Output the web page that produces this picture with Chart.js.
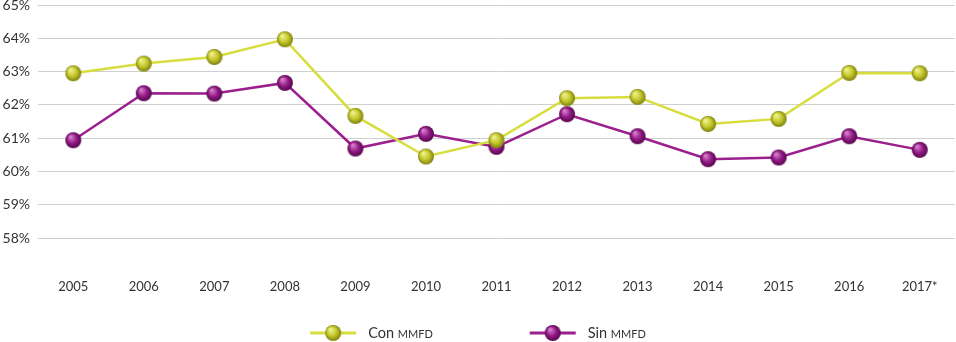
<!DOCTYPE html>
<html><head><meta charset="utf-8">
<script src="https://cdn.jsdelivr.net/npm/chart.js@4/dist/chart.umd.min.js"></script>
<style>html,body{margin:0;padding:0;background:#fff;}#wrap{width:956px;height:342px;}</style>
</head><body><div id="wrap"><canvas id="c"></canvas></div>
<script>
const years = ['2005','2006','2007','2008','2009','2010','2011','2012','2013','2014','2015','2016','2017*'];
const conMMFD = [62.95,63.24,63.44,63.97,61.67,60.45,60.94,62.20,62.24,61.43,61.58,62.96,62.95];
const sinMMFD = [60.94,62.35,62.34,62.66,60.69,61.13,60.74,61.72,61.06,60.37,60.42,61.06,60.65];
const seriesNames = [['Con ','MMFD'],['Sin ','MMFD']];
const yMin = 57, yMax = 65;

function ball(c1,c2,c3,r){
  const cv=document.createElement('canvas'); cv.width=cv.height=r*2+2;
  const g=cv.getContext('2d'); const cx=r+1;
  const gr=g.createRadialGradient(cx-r*0.35,cx-r*0.45,r*0.1,cx,cx,r);
  gr.addColorStop(0,c1); gr.addColorStop(0.55,c2); gr.addColorStop(1,c3);
  g.fillStyle=gr; g.beginPath(); g.arc(cx,cx,r,0,Math.PI*2); g.fill();
  return cv;
}
const yBall=ball('#eef28a','#c4c72c','#7f800e',8);
const pBall=ball('#d77fcb','#921a87','#55074c',8);
const yColor='#d6dd3c', pColor='#9c1f8e';

const legendPlugin={id:'customLegend',afterDraw(chart){
  const ctx=chart.ctx; const y=333; const lineW=46, gapText=12, gapItems=97;
  const big='14.5px Lato', small='11px Lato';
  const items=chart.data.datasets.map((d,i)=>{
    ctx.font=big; const w1=ctx.measureText(d.label[0]).width;
    ctx.font=small; const w2=ctx.measureText(d.label[1]).width;
    return {d,w1,w2,w:lineW+gapText+w1+w2,img:i?pBall:yBall};
  });
  const total=items.reduce((a,b)=>a+b.w,0)+gapItems*(items.length-1);
  let x=chart.width/2-total/2;
  ctx.save();
  items.forEach(it=>{
    ctx.strokeStyle=it.d.borderColor; ctx.lineWidth=3;
    ctx.beginPath(); ctx.moveTo(x,y); ctx.lineTo(x+lineW,y); ctx.stroke();
    ctx.drawImage(it.img,x+lineW/2-it.img.width/2,y-it.img.height/2);
    let tx=x+lineW+gapText;
    ctx.fillStyle='#333'; ctx.textBaseline='alphabetic';
    ctx.font=big; ctx.fillText(it.d.label[0],tx,y+5); tx+=it.w1;
    ctx.font=small; ctx.fillText(it.d.label[1],tx,y+5);
    x+=it.w+gapItems;
  });
  ctx.restore();
}};

new Chart(document.getElementById('c'),{
  type:'line',
  data:{labels:years,datasets:[
    {label:seriesNames[0],data:conMMFD,borderColor:yColor,backgroundColor:yColor,borderWidth:2.5,pointStyle:yBall,pointRadius:8,pointHoverRadius:8,tension:0,clip:false},
    {label:seriesNames[1],data:sinMMFD,borderColor:pColor,backgroundColor:pColor,borderWidth:2.5,pointStyle:pBall,pointRadius:8,pointHoverRadius:8,tension:0,clip:false}
  ]},
  plugins:[legendPlugin],
  options:{
    responsive:true,maintainAspectRatio:false,animation:false,
    layout:{autoPadding:false,padding:{top:5,right:1,left:0,bottom:47}},
    plugins:{tooltip:{enabled:false},legend:{display:false}},
    scales:{
      x:{offset:true,grid:{display:false},border:{display:false},
        afterFit:(s)=>{s.paddingLeft=0;s.paddingRight=0;},
        ticks:{color:'#333',font:{family:'Lato',size:13},padding:0,maxRotation:0}},
      y:{min:yMin,max:yMax,border:{display:false},
        afterFit:(s)=>{s.width=38;s.paddingTop=0;s.paddingBottom=0;},
        grid:{drawTicks:false,color:(ctx)=>ctx.tick&&ctx.tick.value===yMin?'rgba(0,0,0,0)':'#cfcfcf',lineWidth:1},
        ticks:{stepSize:1,padding:8,color:'#333',font:{family:'Lato',size:14},
          callback:(v)=>v===yMin?'':v+'%'}}
    }
  }
});
</script></body></html>
